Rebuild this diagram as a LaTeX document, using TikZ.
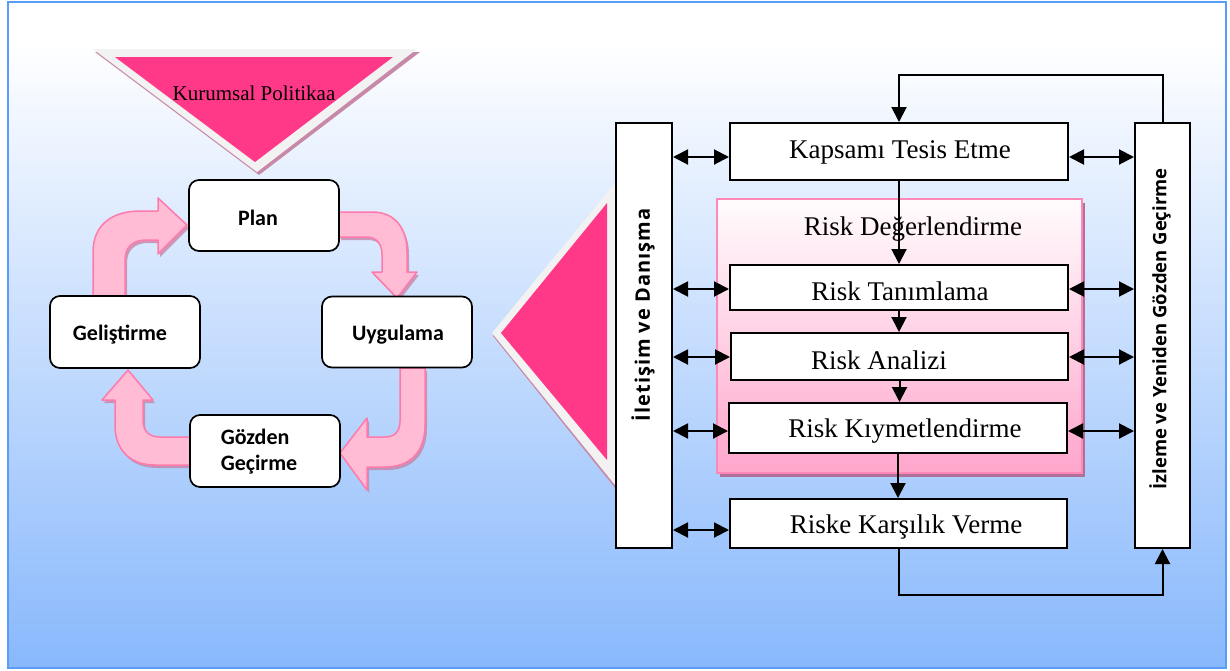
\documentclass[tikz,border=0pt]{standalone}
\usepackage{fontspec}
\setmainfont{Liberation Serif}
\newfontfamily\boxfont{Carlito}
\newfontfamily\sidefont{Open Sans}
\usetikzlibrary{arrows.meta,calc,shadows}

\definecolor{hotpink}{RGB}{255,56,136}
\definecolor{tripale}{RGB}{242,242,242}
\definecolor{trishadow}{RGB}{200,136,168}
\definecolor{arrowfill}{RGB}{255,188,212}
\definecolor{arrowedge}{RGB}{255,122,172}
\definecolor{arrowshadow}{RGB}{196,134,168}
\definecolor{bgbot}{RGB}{136,184,252}
\definecolor{framecol}{RGB}{90,156,248}
\definecolor{panelpink}{RGB}{255,136,185}
\definecolor{paneltop}{RGB}{255,252,253}
\definecolor{panelbot}{RGB}{255,166,204}
\definecolor{panelshadow}{RGB}{176,112,152}

% the path spans 25bp..75bp of the shading box
\pgfdeclareverticalshading{pagebg}{100bp}{color(0bp)=(bgbot); color(25bp)=(bgbot); color(72bp)=(white); color(100bp)=(white)}

\begin{document}
\begin{tikzpicture}[x=1pt,y=-1pt,
  leftbox/.style={draw=black, line width=1.7pt, rounded corners=10pt, fill=white,
    minimum width=150pt, minimum height=71pt, inner sep=0pt},
  lefttext/.style={inner sep=0pt, font=\boxfont\bfseries\fontsize{22}{26}\selectfont},
  stagebox/.style={draw=black, line width=2pt, fill=white, inner sep=0pt},
  stagetext/.style={inner sep=0pt, font=\fontsize{27}{30}\selectfont},
  sidebox/.style={draw=black, line width=2pt, fill=white, inner sep=0pt,
    minimum width=55pt, minimum height=425pt},
  sidelabel/.style={rotate=90, inner sep=0pt},
  cyclearrow/.style={fill=arrowfill, draw=arrowedge, line width=1.5pt, line join=round,
    drop shadow={shadow xshift=2pt, shadow yshift=-3pt, fill=arrowshadow, opacity=0.8}},
  panel/.style={draw=panelpink, line width=1.8pt, top color=paneltop, bottom color=panelbot,
    minimum width=365pt, minimum height=274pt, inner sep=0pt,
    drop shadow={shadow xshift=3pt, shadow yshift=-4pt, fill=panelshadow, opacity=1}},
  conn/.style={line width=2pt, -{Triangle[length=15pt,width=15pt]}},
  dbl/.style={line width=2pt, {Triangle[length=15pt,width=15pt]}-{Triangle[length=15pt,width=15pt]}},
]
\useasboundingbox (0,0) rectangle (1230,670);
\fill[white] (0,0) rectangle (1230,670);

% page background and frame
\shade[shading=pagebg] (8,2) rectangle (1226,668);
\draw[framecol, line width=2pt] (8,2) rectangle (1226,668);

% policy triangle
\fill[trishadow] (95,52) -- (420,52) -- (259,175) -- cycle;
\fill[tripale] (93,49) -- (417,49) -- (257,172) -- cycle;
\fill[hotpink] (115,57) -- (393,57) -- (255,162) -- cycle;
\node[stagetext, font=\fontsize{21}{24}\selectfont] (policy) at (254,93) {Kurumsal Politikaa};

% cycle arrows
\path[cyclearrow] (93,297) -- (93,252) .. controls (93,225) and (112,211) .. (140,211)
  -- (158,211) -- (158,198) -- (187,225) -- (158,254) -- (158,240) -- (146,240)
  .. controls (133,240) and (125,247) .. (125,260) -- (125,297) -- cycle;
\path[cyclearrow] (339,212) -- (372,212) .. controls (395,212) and (407,228) .. (407,252)
  -- (407,272) -- (417,272) -- (397,298) -- (372,272) -- (382,272) -- (382,255)
  .. controls (382,244) and (377,237) .. (366,237) -- (339,237) -- cycle;
\path[cyclearrow] (400,368) -- (425,368) -- (425,425) .. controls (425,452) and (410,467) .. (385,467)
  -- (367,467) -- (367,490) -- (340,453) -- (367,418) -- (367,437) -- (385,437)
  .. controls (395,437) and (400,431) .. (400,421) -- cycle;
\path[cyclearrow] (190,437) -- (160,437) .. controls (149,437) and (143,431) .. (143,420)
  -- (143,400) -- (153,400) -- (128,370) -- (102,400) -- (115,400) -- (115,425)
  .. controls (115,450) and (130,465) .. (155,465) -- (190,465) -- cycle;

% cycle stages
\node[leftbox] (plan) at (264,215.5) {};
\node[lefttext] (planT) at (258,218) {Plan};
\node[leftbox] (uyg) at (397,332) {};
\node[lefttext] (uygT) at (398,335) {Uygulama};
\node[leftbox, minimum height=72pt] (gel) at (125,332) {};
\node[lefttext] (gelT) at (120,335) {Geliştirme};
\node[leftbox, minimum height=72pt] (goz) at (265,451) {};
\node[lefttext, align=left] (gozT) at (259,452) {Gözden\\Geçirme};

% pointer triangle
\fill[trishadow] (615,186) -- (493,336) -- (615,488) -- cycle;
\fill[tripale] (615,183) -- (492,333) -- (615,485) -- cycle;
\fill[hotpink] (607,203) -- (501,333) -- (607,460) -- cycle;

% side columns
\node[sidebox, minimum width=56pt] (ilet) at (644,335.5) {};
\node[sidelabel, font=\sidefont\bfseries\fontsize{20}{22}\selectfont\addfontfeatures{LetterSpace=5}]
  (iletT) at (643,315) {İletişim ve Danışma};
\node[sidebox] (izl) at (1162.5,335.5) {};
\node[sidelabel, font=\sidefont\bfseries\fontsize{18.5}{20}\selectfont]
  (izlT) at (1160,329) {İzleme ve Yeniden Gözden Geçirme};

% risk assessment panel
\node[panel] (assess) at (899.5,336) {};
\node[stagetext] (assessT) at (913,229) {Risk Değerlendirme};

% process steps
\node[stagebox, minimum width=338pt, minimum height=57pt] (kap) at (899,151.5) {};
\node[stagetext] (kapT) at (900,152) {Kapsamı Tesis Etme};
\node[stagebox, minimum width=338pt, minimum height=45pt] (tan) at (899,287.5) {};
\node[stagetext] (tanT) at (900,291) {Risk Tanımlama};
\node[stagebox, minimum width=337pt, minimum height=47pt] (ana) at (899.5,356.5) {};
\node[stagetext] (anaT) at (879,360) {Risk Analizi};
\node[stagebox, minimum width=338pt, minimum height=50pt] (kiy) at (898,428) {};
\node[stagetext] (kiyT) at (905,431) {Risk Kıymetlendirme};
\node[stagebox, minimum width=337pt, minimum height=49pt] (ris) at (898.5,523.5) {};
\node[stagetext] (risT) at (906,527) {Riske Karşılık Verme};

% flow between steps
\draw[conn] (kap.south) -- (tan.north);
\draw[conn] (tan.south) -- (tan.south |- ana.north);
\draw[conn] (ana.south) -- (ana.south |- kiy.north);
\draw[conn] (kiy.south) -- (kiy.south |- ris.north);

% feedback loops
\coordinate (loopTop) at (0,75);
\coordinate (loopBot) at (0,595);
\draw[conn] (izl.north) -- (izl.north |- loopTop) -- (kap.north |- loopTop) -- (kap.north);
\draw[conn] (ris.south) -- (ris.south |- loopBot) -- (izl.south |- loopBot) -- (izl.south);

% communication links
\foreach \b/\yy in {kap/157, tan/289, ana/357, kiy/431, ris/530}
  \draw[dbl] (ilet.east |- 0,\yy) -- (\b.west |- 0,\yy);
\foreach \b/\yy in {kap/157, tan/289, ana/357, kiy/431}
  \draw[dbl] (\b.east |- 0,\yy) -- (izl.west |- 0,\yy);
\end{tikzpicture}
\end{document}
